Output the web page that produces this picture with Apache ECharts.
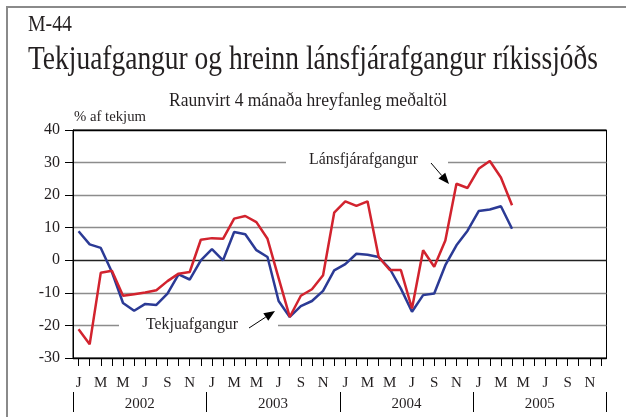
<!DOCTYPE html>
<html>
<head>
<meta charset="utf-8">
<script src="https://cdn.jsdelivr.net/npm/echarts@6/dist/echarts.min.js"></script>
<style>
html,body{margin:0;padding:0;background:#fff;}
#chart{width:626px;height:417px;}
</style>
</head>
<body>
<div id="chart"></div>
<script>
// ---- data ----
var monthLetters = ['J','F','M','A','M','J','J','A','S','O','N','D'];
var years = ['2002','2003','2004','2005'];
var yTicks = [-30,-20,-10,0,10,20,30,40];
// Tekjuafgangur (blue), Jan 2002 - Apr 2005
var tekjuafgangur = [8.9, 4.9, 3.8, -3.6, -13.1, -15.5, -13.4, -13.7, -10.2, -4.3, -5.9, 0.0,
  3.4, 0.0, 8.7, 8.0, 3.1, 1.0, -12.5, -17.4, -14.1, -12.5, -9.4, -3.1,
  -1.2, 2.0, 1.7, 1.0, -2.6, -8.7, -15.8, -10.7, -10.2, -1.5, 4.6, 9.1,
  15.1, 15.6, 16.6, 9.7];
// Lánsfjárafgangur (red)
var lansfjarafgangur = [-21.2, -25.8, -3.8, -3.2, -10.9, -10.4, -9.9, -9.2, -6.4, -4.1, -3.6, 6.3,
  6.8, 6.6, 12.8, 13.6, 11.7, 6.6, -5.5, -17.4, -10.9, -8.9, -4.6, 14.6,
  18.1, 16.7, 18.1, 1.0, -3.0, -3.0, -14.8, 3.1, -2.0, 6.1, 23.5, 22.2,
  28.1, 30.5, 25.4, 16.9];

var categories = [];
years.forEach(function(y){ monthLetters.forEach(function(m){ categories.push(m); }); });

var serif = "'Liberation Serif','Times New Roman',serif";
var txt = '#231f20';

var measureCtx = document.createElement('canvas').getContext('2d');
function fitText(str, font, x, y, targetW, z) {
  measureCtx.font = font;
  var w = measureCtx.measureText(str).width;
  return {type:'text', x:x, y:y, z:z || 5, scaleX: targetW / w, scaleY: 1,
    style:{text:str, font:font, fill:txt, textVerticalAlign:'top', verticalAlign:'top'}};
}

function arrow(x1, y1, x2, y2) {
  var ang = Math.atan2(y2 - y1, x2 - x1);
  var L = 11, W = 4.5;
  var bx = x2 - L * Math.cos(ang), by = y2 - L * Math.sin(ang);
  var px = -Math.sin(ang) * W, py = Math.cos(ang) * W;
  return [
    {type:'line', z:20, shape:{x1:x1,y1:y1,x2:bx,y2:by}, style:{stroke:'#000', lineWidth:1}},
    {type:'polygon', z:20, shape:{points:[[x2,y2],[bx+px,by+py],[bx-px,by-py]]}, style:{fill:'#000'}}
  ];
}

var graphics = [
  {type:'rect', z:0, shape:{x:7, y:7, width:700, height:500}, style:{fill:'none', stroke:'#8a8a8a', lineWidth:2}},
  fitText('M-44', '23px ' + serif, 28, 13, 44),
  fitText('Tekjuafgangur og hreinn lánsfjárafgangur ríkissjóðs', '33px ' + serif, 28, 44, 570),
  fitText('Raunvirt 4 mánaða hreyfanleg meðaltöl', '18px ' + serif, 169, 92, 278),
  fitText('% af tekjum', '14px ' + serif, 74, 110, 72),
  // gaps in gridlines behind annotations
  {type:'rect', z:10, shape:{x:286, y:158, width:162, height:9}, style:{fill:'#fff'}},
  {type:'rect', z:10, shape:{x:119, y:320, width:159, height:10}, style:{fill:'#fff'}},
  fitText('Lánsfjárafgangur', '16px ' + serif, 309, 152, 109, 21),
  fitText('Tekjuafgangur', '16px ' + serif, 146, 317, 92, 21)
].concat(arrow(431, 163, 449, 184)).concat(arrow(249, 328, 275, 311));

var chart = echarts.init(document.getElementById('chart'));
chart.setOption({
  animation: false,
  backgroundColor: '#fff',
  grid: {left:73, right:19.5, top:130, bottom:59, show:true, borderColor:'#000', borderWidth:1},
  xAxis: [{
    type:'category', data:categories, boundaryGap:true, position:'bottom',
    axisLine:{onZero:false, lineStyle:{color:'#000', width:1}},
    axisTick:{show:true, alignWithLabel:true, interval:0, length:8, lineStyle:{color:'#000'}},
    axisLabel:{interval:1, margin:18, fontFamily:serif, fontSize:15, color:txt},
    splitLine:{show:false}
  },{
    type:'category', data:years, boundaryGap:true, position:'bottom', offset:34,
    axisLine:{show:false, onZero:false},
    axisTick:{show:true, length:20, lineStyle:{color:'#000'}},
    axisLabel:{margin:5, fontFamily:serif, fontSize:15, color:txt},
    splitLine:{show:false}
  }],
  yAxis: {
    type:'value', min:yTicks[0], max:yTicks[yTicks.length-1], interval:10,
    axisLine:{show:true, lineStyle:{color:'#000'}},
    axisTick:{show:true, length:8, lineStyle:{color:'#000'}},
    axisLabel:{margin:13, fontFamily:serif, fontSize:16, color:txt},
    splitLine:{show:true, lineStyle:{color:['#000','#8c8c8c','#8c8c8c','#222','#8c8c8c','#8c8c8c','#8c8c8c','#000'], width:1.3}}
  },
  series: [{
    name:'Lánsfjárafgangur', type:'line', data:lansfjarafgangur, symbol:'none',
    lineStyle:{color:'#d2232e', width:2.5}, itemStyle:{color:'#d2232e'}, z:3
  },{
    name:'Tekjuafgangur', type:'line', data:tekjuafgangur, symbol:'none',
    lineStyle:{color:'#2b3a95', width:2.5}, itemStyle:{color:'#2b3a95'}, z:2
  }],
  graphic: graphics
});
</script>
</body>
</html>
